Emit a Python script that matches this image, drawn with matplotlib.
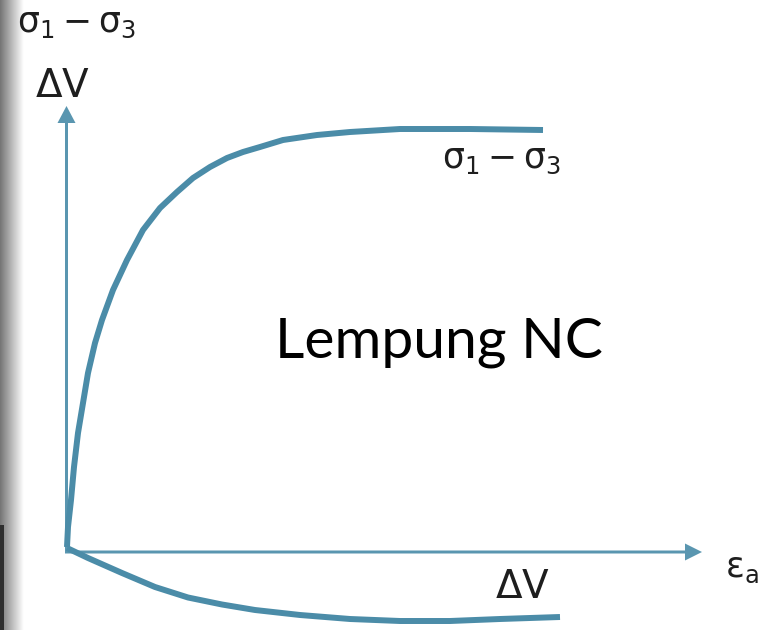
import matplotlib as mpl
mpl.use('Agg')
import matplotlib.pyplot as plt
import numpy as np
from matplotlib.patches import Rectangle

# sketch of triaxial CD test on NC clay: deviator stress and volume change vs axial strain
# values (1 unit = 100 px)
strain_dev = [0.01, 0.02, 0.05, 0.08, 0.12, 0.17, 0.22, 0.29, 0.36, 0.47,
              0.61, 0.77, 0.94, 1.11, 1.27, 1.44, 1.61, 1.77, 1.94, 2.17,
              2.51, 2.84, 3.34, 4.04, 4.77]
deviator = [0.04, 0.24, 0.51, 0.84, 1.18, 1.48, 1.78, 2.08, 2.31, 2.61,
            2.91, 3.21, 3.43, 3.59, 3.73, 3.84, 3.93, 3.99, 4.04, 4.11,
            4.16, 4.19, 4.22, 4.22, 4.21]

strain_vol = [0.01, 0.22, 0.56, 0.89, 1.22, 1.56, 1.89, 2.34, 2.84, 3.34, 3.84, 4.34, 4.94]
vol_change = [0.03, -0.07, -0.22, -0.36, -0.465, -0.535, -0.59, -0.64, -0.68, -0.70, -0.70, -0.68, -0.66]

line_col = '#4b8ca8'
axis_col = '#5a96b0'

fig = plt.figure(figsize=(7.59, 6.30), dpi=100)
ax = fig.add_axes([0, 0, 1, 1])
ax.set_xlim(-0.66, 6.93)
ax.set_ylim(-0.79, 5.51)
ax.axis('off')

# grey shadow strip at the left edge
grad = np.linspace(0.0, 1.0, 48).reshape(1, -1)
ax.imshow(grad, extent=(-0.66, -0.42, -0.79, 5.51), cmap='gray', vmin=-0.85, vmax=1.0,
          aspect='auto', zorder=0, interpolation='bilinear')
ax.add_patch(Rectangle((-0.66, -0.79), 0.035, 1.05, color='#2e2e2e', lw=0, zorder=1))

# axes with arrows
ax.arrow(0.005, -0.02, 0, 4.47, width=0.03, head_width=0.18, head_length=0.17,
         length_includes_head=True, color=axis_col, lw=0, zorder=2)
ax.arrow(-0.01, -0.01, 6.37, 0, width=0.03, head_width=0.17, head_length=0.17,
         length_includes_head=True, color=axis_col, lw=0, zorder=2)

ax.plot(strain_dev, deviator, color=line_col, lw=4.3, solid_capstyle='butt',
        solid_joinstyle='round', zorder=3)
ax.plot(strain_vol, vol_change, color=line_col, lw=4.3, solid_capstyle='butt',
        solid_joinstyle='round', zorder=3)

txt_col = '#1e1e1e'
ax.text(-0.49, 5.19, r'$\mathrm{\sigma_1 - \sigma_3}$', fontsize=25, color=txt_col, va='baseline')
ax.text(-0.31, 4.54, r'$\mathrm{\Delta V}$', fontsize=28, color=txt_col, va='baseline')
ax.text(3.76, 3.83, r'$\mathrm{\sigma_1 - \sigma_3}$', fontsize=25, color=txt_col, va='baseline')
ax.text(4.29, -0.47, r'$\mathrm{\Delta V}$', fontsize=28, color=txt_col, va='baseline')
ax.text(6.59, -0.26, r'$\mathrm{\varepsilon_a}$', fontsize=25, color=txt_col, va='baseline')
ax.text(2.09, 1.93, 'Lempung NC', fontsize=41, family='Lato', color='black', va='baseline')

fig.savefig('out.png', dpi=100)
